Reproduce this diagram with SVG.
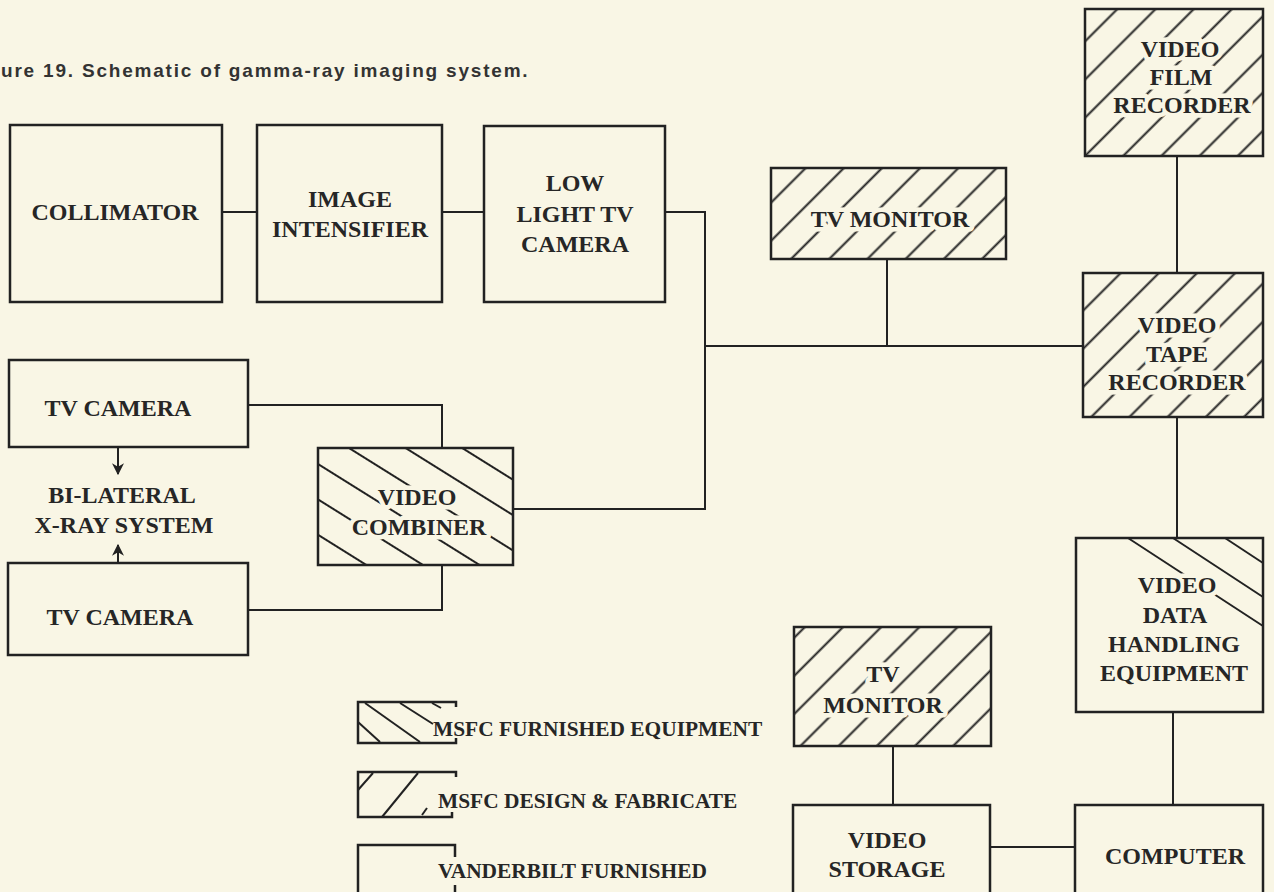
<svg xmlns="http://www.w3.org/2000/svg" width="1274" height="892" viewBox="0 0 1274 892">
<style>
.bg{fill:#f9f6e5}
.box{fill:none;stroke:#222;stroke-width:2.5}
.hl{stroke:#222;stroke-width:2;fill:none}
.c{stroke:#222;stroke-width:2;fill:none}
.t{font-family:"Liberation Serif","Times New Roman",serif;font-weight:bold;font-size:24px;fill:#262626;text-anchor:middle}
.halo{stroke:#f9f6e5;stroke-width:9px;stroke-linejoin:round;paint-order:stroke}
.lg{font-family:"Liberation Serif","Times New Roman",serif;font-weight:bold;font-size:21.4px;fill:#262626}
.cap{font-family:"Liberation Sans",Arial,sans-serif;font-weight:bold;font-size:19px;letter-spacing:1.8px;fill:#333}
</style>
<defs>
<pattern id="fwd" patternUnits="userSpaceOnUse" width="27" height="27" patternTransform="rotate(45)">
<line x1="13.5" y1="-1" x2="13.5" y2="28" stroke="#222" stroke-width="2"/>
</pattern>
<pattern id="back" patternUnits="userSpaceOnUse" width="30" height="30" patternTransform="rotate(-58)">
<line x1="15" y1="-1" x2="15" y2="31" stroke="#222" stroke-width="2"/>
</pattern>
<marker id="ah" viewBox="0 0 10 10" refX="9" refY="5" markerWidth="12" markerHeight="12" markerUnits="userSpaceOnUse" orient="auto">
<path d="M0,0 L10,5 L0,10 L3,5 z" fill="#222"/>
</marker>
</defs>
<rect class="bg" x="0" y="0" width="1274" height="892"/>
<text class="cap" x="1" y="77">ure 19. Schematic of gamma-ray imaging system.</text>

<g id="connectors">
<line class="c" x1="222" y1="212" x2="257" y2="212"/>
<line class="c" x1="442" y1="212" x2="484" y2="212"/>
<polyline class="c" points="665,212 705,212 705,509 513,509"/>
<line class="c" x1="705" y1="346" x2="1083" y2="346"/>
<line class="c" x1="887" y1="259" x2="887" y2="346"/>
<line class="c" x1="1177" y1="156" x2="1177" y2="273"/>
<line class="c" x1="1177" y1="417" x2="1177" y2="538"/>
<line class="c" x1="1173" y1="712" x2="1173" y2="805"/>
<line class="c" x1="990" y1="847" x2="1075" y2="847"/>
<line class="c" x1="893" y1="746" x2="893" y2="805"/>
<polyline class="c" points="248,405 442,405 442,448"/>
<polyline class="c" points="442,565 442,610 248,610"/>
<line class="c" x1="118" y1="447" x2="118" y2="474" marker-end="url(#ah)"/>
<line class="c" x1="118" y1="563" x2="118" y2="545" marker-end="url(#ah)"/>
</g>

<g id="collimator">
<rect class="box" x="10" y="125" width="212" height="177"/>
<text class="t" x="115" y="220">COLLIMATOR</text>
</g>
<g id="image-intensifier">
<rect class="box" x="257" y="125" width="185" height="177"/>
<text class="t" x="350" y="207">IMAGE</text>
<text class="t" x="350" y="237">INTENSIFIER</text>
</g>
<g id="low-light-tv-camera">
<rect class="box" x="484" y="126" width="181" height="176"/>
<text class="t" x="575" y="191">LOW</text>
<text class="t" x="575" y="222">LIGHT TV</text>
<text class="t" x="575" y="252">CAMERA</text>
</g>
<g id="tv-monitor-top">
<rect x="771" y="168" width="235" height="91" fill="url(#fwd)"/>
<rect class="box" x="771" y="168" width="235" height="91"/>
<text class="t halo" x="890" y="227">TV MONITOR</text>
</g>
<g id="video-film-recorder">
<rect x="1085" y="9" width="178" height="147" fill="url(#fwd)"/>
<rect class="box" x="1085" y="9" width="178" height="147"/>
<text class="t halo" x="1180" y="57">VIDEO</text>
<text class="t halo" x="1181" y="85">FILM</text>
<text class="t halo" x="1182" y="113">RECORDER</text>
</g>
<g id="video-tape-recorder">
<rect x="1083" y="273" width="180" height="144" fill="url(#fwd)"/>
<rect class="box" x="1083" y="273" width="180" height="144"/>
<text class="t halo" x="1177" y="333">VIDEO</text>
<text class="t halo" x="1177" y="362">TAPE</text>
<text class="t halo" x="1177" y="390">RECORDER</text>
</g>
<g id="video-data-handling">
<line class="hl" x1="1128" y1="538" x2="1263" y2="626"/>
<line class="hl" x1="1173" y1="538" x2="1263" y2="597"/>
<line class="hl" x1="1225" y1="538" x2="1263" y2="563"/>
<rect class="box" x="1076" y="538" width="187" height="174"/>
<text class="t halo" x="1177" y="593">VIDEO</text>
<text class="t halo" x="1175" y="623">DATA</text>
<text class="t halo" x="1174" y="652">HANDLING</text>
<text class="t halo" x="1174" y="681">EQUIPMENT</text>
</g>
<g id="computer">
<rect class="box" x="1075" y="805" width="188" height="100"/>
<text class="t" x="1175" y="864">COMPUTER</text>
</g>
<g id="video-storage">
<rect class="box" x="793" y="805" width="197" height="100"/>
<text class="t" x="887" y="848">VIDEO</text>
<text class="t" x="887" y="877">STORAGE</text>
</g>
<g id="tv-monitor-bottom">
<rect x="794" y="627" width="197" height="119" fill="url(#fwd)"/>
<rect class="box" x="794" y="627" width="197" height="119"/>
<text class="t halo" x="883" y="682">TV</text>
<text class="t halo" x="883" y="713">MONITOR</text>
</g>
<g id="tv-camera-top">
<rect class="box" x="9" y="360" width="239" height="87"/>
<text class="t" x="118" y="416">TV CAMERA</text>
</g>
<g id="bi-lateral-x-ray-system">
<text class="t" x="122" y="503">BI-LATERAL</text>
<text class="t" x="124" y="533">X-RAY SYSTEM</text>
</g>
<g id="tv-camera-bottom">
<rect class="box" x="8" y="563" width="240" height="92"/>
<text class="t" x="120" y="625">TV CAMERA</text>
</g>
<g id="video-combiner">
<rect x="318" y="448" width="195" height="117" fill="url(#back)"/>
<rect class="box" x="318" y="448" width="195" height="117"/>
<text class="t halo" x="417" y="505">VIDEO</text>
<text class="t halo" x="419" y="535">COMBINER</text>
</g>

<g id="legend">
<line class="hl" x1="358" y1="722" x2="380" y2="742"/>
<line class="hl" x1="365" y1="703" x2="420" y2="742"/>
<line class="hl" x1="400" y1="703" x2="433" y2="724"/>
<line class="hl" x1="432" y1="703" x2="441" y2="708"/>
<polyline class="box" points="456,707 456,702 358,702 358,743 456,743 456,738"/>
<text class="lg" x="433" y="736">MSFC FURNISHED EQUIPMENT</text>
<line class="hl" x1="358" y1="790" x2="373" y2="773"/>
<line class="hl" x1="382" y1="817" x2="418" y2="773"/>
<line class="hl" x1="422" y1="815" x2="427" y2="808"/>
<polyline class="box" points="456,777 456,772 358,772 358,817 452,817 452,812"/>
<text class="lg" x="438" y="808">MSFC DESIGN &amp; FABRICATE</text>
<polyline class="box" points="455,857 455,845 358,845 358,892"/>
<line class="box" x1="455" y1="885" x2="455" y2="892"/>
<text class="lg" x="438" y="878">VANDERBILT FURNISHED</text>
</g>
</svg>
